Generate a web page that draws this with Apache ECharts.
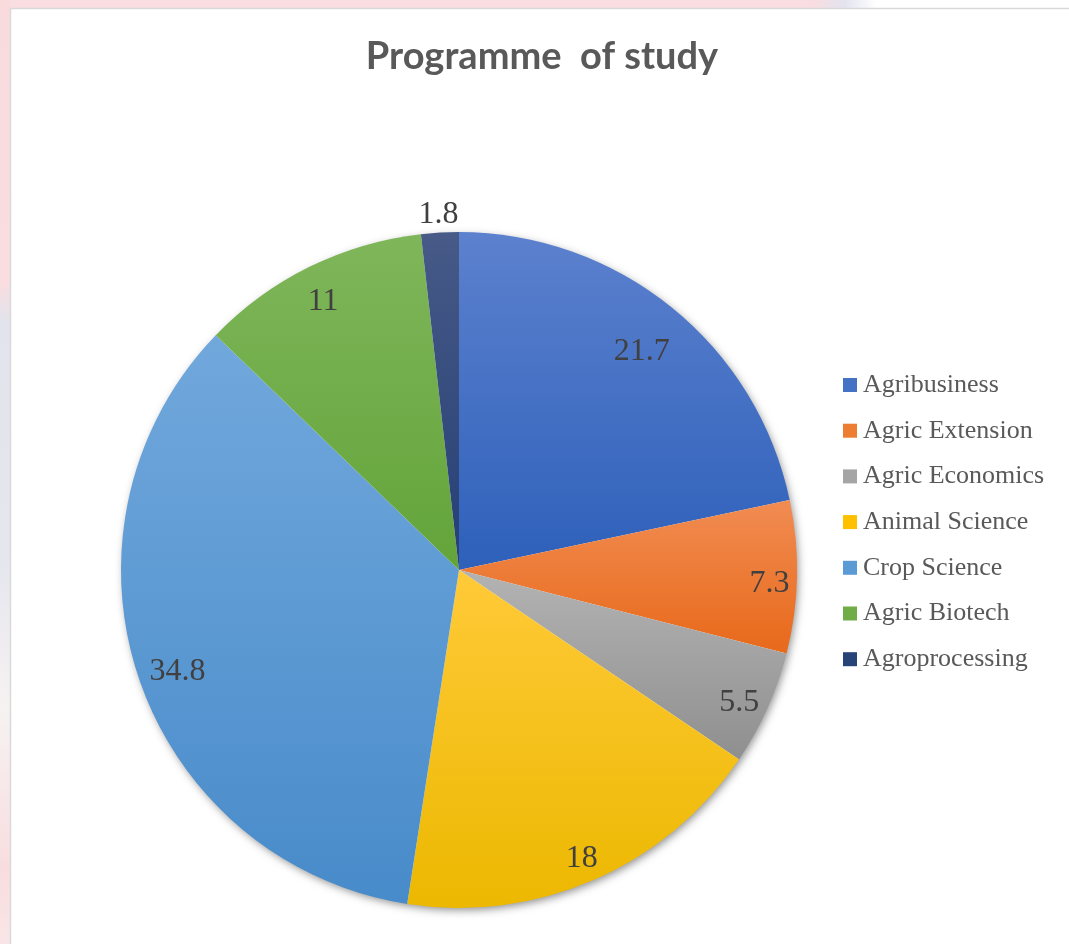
<!DOCTYPE html>
<html>
<head>
<meta charset="utf-8">
<title>Programme of study</title>
<script src="https://cdn.jsdelivr.net/npm/echarts@6/dist/echarts.min.js"></script>
<style>
  html, body { margin: 0; padding: 0; background: #ffffff; }
  #chart { width: 1069px; height: 944px; }
</style>
</head>
<body>
<div id="chart"></div>
<script>
// Share of respondents by programme of study (%)
const programmes = ['Agribusiness', 'Agric Extension', 'Agric Economics', 'Animal Science', 'Crop Science', 'Agric Biotech', 'Agroprocessing'];
const shares = [21.7, 7.3, 5.5, 18, 34.8, 11, 1.8];

// Office-style fills: lighter at the top of each slice, deeper at the bottom
const topColors = ['#5c81ce', '#f18c52', '#b3b3b3', '#ffca38', '#71a8dc', '#7fb65a', '#475a88'];
const bottomColors = ['#2e60ba', '#e8691a', '#8f8f8f', '#ecb800', '#488bca', '#63a43a', '#253f74'];
const legendColors = ['#4472c4', '#ed7d31', '#a5a5a5', '#ffc000', '#5b9bd5', '#70ad47', '#264478'];

// radial placement of each value label, as a fraction of the pie radius
const labelRadius = [0.85, 0.91, 0.9, 0.9, 0.87, 0.9, 1.065];

const CX = 459, CY = 570, R = 338;
// value labels sit slightly below the radial midpoint of their slot
const LABEL_DROP = 7;
const serif = '"Liberation Serif", "Times New Roman", serif';

const chart = echarts.init(document.getElementById('chart'), null, { renderer: 'canvas' });

function grad(i) {
  return new echarts.graphic.LinearGradient(0, 0, 0, 1, [
    { offset: 0, color: topColors[i] },
    { offset: 1, color: bottomColors[i] }
  ]);
}

const mainData = programmes.map((name, i) => ({
  name, value: shares[i],
  itemStyle: { color: grad(i) }
}));

const labelStyle = {
  position: 'inside',
  formatter: p => String(p.value),
  fontFamily: serif,
  fontSize: 32,
  color: '#404040'
};

// transparent rings that only carry the value labels; a label sits midway
// across its ring, so one ring per distinct label radius
const ringRadii = [...new Set(labelRadius)];
const labelSeries = ringRadii.map(f => ({
  type: 'pie',
  center: [CX, CY + LABEL_DROP],
  radius: [R * (f - 0.06), R * (f + 0.06)],
  startAngle: 90,
  silent: true,
  itemStyle: { color: 'rgba(0,0,0,0)' },
  label: labelStyle,
  labelLine: { show: false },
  emphasis: { disabled: true },
  data: programmes.map((name, i) => ({
    name, value: shares[i],
    label: { show: labelRadius[i] === f }
  }))
}));

const option = {
  animation: false,
  backgroundColor: '#ffffff',
  title: {
    text: 'Programme  of study',
    left: 537,
    top: 33,
    textAlign: 'center',
    textStyle: {
      fontFamily: 'Lato, "Open Sans", sans-serif',
      fontWeight: 'bold',
      fontSize: 38,
      color: '#595959'
    }
  },
  legend: {
    orient: 'vertical',
    left: 838,
    top: 367,
    itemWidth: 14,
    itemHeight: 14,
    itemGap: 19.7,
    icon: 'rect',
    data: programmes.map((name, i) => ({ name, itemStyle: { color: legendColors[i] } })),
    textStyle: {
      fontFamily: serif,
      fontSize: 26,
      lineHeight: 26,
      color: '#595959',
      padding: [0, 0, 0, 1]
    },
    selectedMode: false
  },
  graphic: [
    // slide margin around the chart frame
    { type: 'rect', z: -10, shape: { x: 0, y: 0, width: 1069, height: 9 },
      style: { fill: new echarts.graphic.LinearGradient(0, 0, 1, 0, [
        { offset: 0, color: '#f9dde0' }, { offset: 0.76, color: '#f9dde0' },
        { offset: 0.79, color: '#e3e3ef' }, { offset: 0.82, color: '#ffffff' }, { offset: 1, color: '#ffffff' }]) } },
    { type: 'rect', z: -10, shape: { x: 0, y: 0, width: 10, height: 944 },
      style: { fill: new echarts.graphic.LinearGradient(0, 0, 0, 1, [
        { offset: 0, color: '#f9dbde' }, { offset: 0.3, color: '#f9dde0' },
        { offset: 0.34, color: '#e2e3ec' }, { offset: 0.6, color: '#e6e6ee' },
        { offset: 0.75, color: '#f6f2f2' }, { offset: 0.92, color: '#f8dde0' }, { offset: 1, color: '#f9e5e7' }]) } },
    { type: 'rect', z: -9, shape: { x: 10.5, y: 8.5, width: 1070, height: 950 },
      style: { fill: '#ffffff', stroke: '#d9d9d9', lineWidth: 1.5 } },
    // soft drop shadow under the pie
    { type: 'circle', z: -5, shape: { cx: CX, cy: CY, r: R - 1 },
      style: { fill: '#ffffff', shadowBlur: 9, shadowOffsetX: 2, shadowOffsetY: 3, shadowColor: 'rgba(0,0,0,0.45)' } }
  ],
  series: [
    {
      type: 'pie',
      center: [CX, CY],
      radius: [0, R],
      startAngle: 90,
      clockwise: true,
      label: { show: false },
      labelLine: { show: false },
      emphasis: { disabled: true },
      silent: true,
      data: mainData
    },
    ...labelSeries
  ]
};

chart.setOption(option);
</script>
</body>
</html>
